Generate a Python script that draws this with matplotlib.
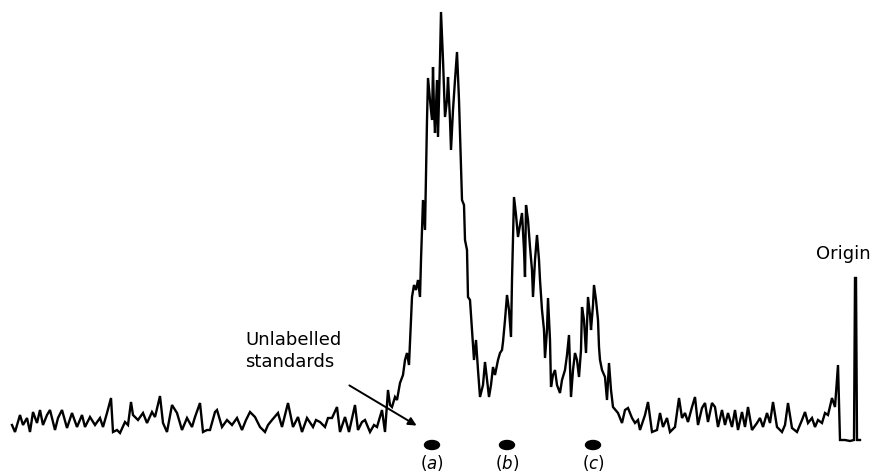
import matplotlib
matplotlib.use("Agg")
import matplotlib.pyplot as plt
from matplotlib.patches import Ellipse

# Radioactivity scan trace: position along strip and detector signal (arbitrary units)
position = [
    12, 15, 20, 23, 27, 30, 33, 37, 40, 43, 47, 50, 55, 58, 62, 67, 72, 77, 82, 85,
    90, 95, 100, 103, 107, 111, 113, 117, 120, 125, 128, 131, 133, 138, 143, 147, 152, 155, 160, 163,
    167, 172, 177, 182, 187, 192, 195, 200, 203, 207, 210, 215, 217, 222, 227, 232, 237, 242, 246, 250,
    255, 260, 265, 268, 272, 278, 282, 288, 293, 298, 302, 307, 313, 316, 320, 325, 328, 332, 337, 340,
    345, 349, 355, 358, 362, 365, 370, 374, 377, 382, 385, 388, 390, 392, 395, 397, 400,
    403, 405, 407, 409, 412, 414, 416, 418, 420, 421, 423, 425, 427, 428, 430, 432, 433, 434, 435,
    437, 438, 440, 441, 443, 445, 447, 448, 450, 451, 453, 455, 457, 459, 462, 464, 465, 467, 468, 470,
    472, 474, 476, 478, 480, 483, 485, 487, 489, 491, 493, 495, 498, 500, 502, 503, 505, 507, 509, 511,
    512, 514, 516, 518, 520, 522, 524, 525, 526, 528, 530, 532, 533, 535, 537, 539, 540, 542, 544, 545,
    547, 548, 550, 551, 553, 555, 557, 560, 562, 565, 567, 569, 571, 573, 575, 577, 579, 581, 582, 584,
    586, 588, 590, 591, 593, 594, 596, 598, 599, 600, 602, 605, 607, 609, 611, 613,
    618, 622, 625, 628, 632, 635, 638, 640, 645, 648, 652, 657, 660, 663, 667, 670, 675, 679, 682, 685,
    688, 692, 695, 698, 702, 705, 708, 712, 715, 718, 722, 725, 728, 732, 735, 738, 742, 745, 748, 752,
    757, 760, 763, 767, 770, 773, 777, 782, 785, 788, 792, 797, 802, 805, 808, 812, 815, 818, 822, 825,
    828, 832, 835, 838, 840, 845, 850, 854, 855, 856, 857, 860,
]
trace_px = [
    425, 432, 415, 425, 418, 432, 412, 423, 410, 425, 415, 410, 430, 418, 410, 428, 413, 427, 415, 427,
    417, 425, 418, 427, 413, 398, 432, 430, 433, 422, 425, 402, 415, 420, 413, 423, 412, 417, 396, 423,
    432, 405, 413, 430, 418, 427, 417, 403, 432, 430, 430, 412, 410, 427, 420, 425, 418, 430, 420, 412,
    417, 427, 432, 425, 420, 413, 427, 403, 427, 417, 432, 418, 427, 420, 422, 427, 418, 418, 407, 432,
    417, 432, 405, 430, 422, 420, 432, 425, 427, 410, 432, 390, 405, 407, 397, 400, 383,
    375, 360, 353, 365, 297, 285, 290, 280, 297, 260, 200, 230, 120, 78, 100, 120, 67, 110, 133,
    80, 137, 60, 12, 60, 117, 100, 77, 120, 150, 110, 80, 52, 100, 200, 205, 240, 250, 297, 300,
    330, 360, 340, 370, 397, 385, 362, 380, 397, 385, 367, 375, 360, 353, 350, 342, 320, 295, 310, 337,
    280, 197, 215, 237, 225, 213, 250, 277, 205, 220, 247, 270, 297, 260, 235, 260, 280, 310, 330, 358,
    330, 298, 340, 387, 375, 370, 385, 393, 380, 370, 355, 335, 397, 370, 353, 360, 377, 350, 307, 320,
    353, 297, 315, 330, 305, 285, 300, 320, 347, 360, 370, 377, 400, 363, 390, 407,
    413, 423, 410, 408, 418, 423, 420, 430, 415, 402, 432, 430, 413, 427, 418, 432, 427, 398, 418, 413,
    422, 407, 397, 425, 408, 403, 422, 403, 407, 427, 410, 425, 413, 427, 410, 430, 412, 427, 407, 430,
    423, 418, 427, 413, 423, 402, 427, 432, 425, 403, 428, 432, 420, 412, 423, 418, 427, 420, 423, 413,
    415, 398, 407, 365, 440, 440, 441, 440, 278, 278, 440, 440,
]
BASE = 445
signal = [BASE - v for v in trace_px]

standards = ["(a)", "(b)", "(c)"]
standard_pos = [432, 507, 593]

fig = plt.figure(figsize=(8.78, 4.75), dpi=100)
ax = fig.add_axes([0, 0, 1, 1])
ax.set_xlim(0, 878)
ax.set_ylim(BASE - 475, BASE)
ax.axis("off")

ax.plot(position, signal, color="black", lw=1.7, solid_joinstyle="miter")

font = dict(family="DejaVu Sans", fontsize=13, color="black")
for lab, xp in zip(standards, standard_pos):
    ax.add_patch(Ellipse((xp, BASE - 445), 15, 9, color="black"))
    letter = lab.strip("()")
    ax.text(xp, BASE - 463, "(" + r"$\it{" + letter + "}$" + ")", ha="center", va="center",
            family="DejaVu Sans", fontsize=12, color="black")

ax.text(843, BASE - 254, "Origin", ha="center", va="center", **font)
ax.text(245, BASE - 340, "Unlabelled", ha="left", va="center", **font)
ax.text(245, BASE - 362, "standards", ha="left", va="center", **font)
ax.annotate("", xy=(419, BASE - 427), xytext=(347, BASE - 384),
            arrowprops=dict(arrowstyle="-|>", color="black", lw=1.4, mutation_scale=12))

fig.savefig("out.png", dpi=100, facecolor="white")
